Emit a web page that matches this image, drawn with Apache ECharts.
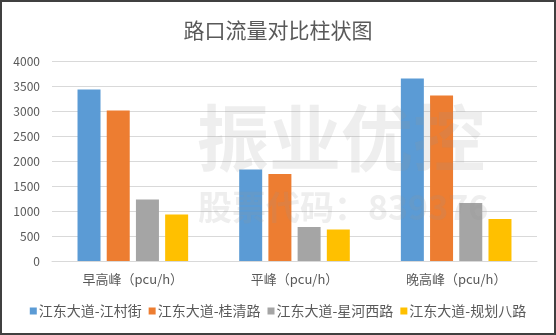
<!DOCTYPE html>
<html><head><meta charset="utf-8">
<script src="https://cdn.jsdelivr.net/npm/echarts@6/dist/echarts.min.js"></script>
<style>html,body{margin:0;padding:0;background:#fff}#c{width:556px;height:335px;box-sizing:border-box;border:2px solid #404040}</style>
</head><body><div id="c"></div>
<script>
const categories = ['早高峰（pcu/h）', '平峰（pcu/h）', '晚高峰（pcu/h）'];
const seriesNames = ['江东大道-江村街', '江东大道-桂清路', '江东大道-星河西路', '江东大道-规划八路'];
const jiangcunjie = [3430, 1830, 3650];
const guiqinglu = [3010, 1740, 3310];
const xinghexilu = [1230, 680, 1160];
const guihuabalu = [930, 630, 840];
const yTicks = [0, 500, 1000, 1500, 2000, 2500, 3000, 3500, 4000];
const colors = ['#5B9BD5', '#ED7D31', '#A5A5A5', '#FFC000'];
const values = [jiangcunjie, guiqinglu, xinghexilu, guihuabalu];
const font = '"Noto Sans CJK SC", "Noto Sans", sans-serif';

const chart = echarts.init(document.getElementById('c'), null, {renderer: 'canvas'});
chart.setOption({
  animation: false,
  textStyle: {fontFamily: font},
  title: {text: '路口流量对比柱状图', left: 'center', top: 13,
    textStyle: {fontSize: 21, fontWeight: 'normal', color: '#595959', fontFamily: font}},
  grid: {left: 50, right: 17, top: 59, bottom: 72},
  legend: {bottom: 10, left: 'center', itemWidth: 7, itemHeight: 7, itemGap: 7,
    icon: 'rect', textStyle: {fontSize: 14, color: '#595959', padding: [0,0,0,-3]}, data: seriesNames},
  xAxis: {type: 'category', data: categories,
    axisLine: {lineStyle: {color: '#d9d9d9', width: 1}}, axisTick: {show: false},
    axisLabel: {fontSize: 13, color: '#595959', margin: 12}},
  yAxis: {type: 'value', min: 0, max: yTicks[yTicks.length-1], interval: 500,
    axisLine: {show: false}, axisTick: {show: false},
    axisLabel: {fontSize: 12, color: '#595959', margin: 12, formatter: v => String(v)},
    splitLine: {lineStyle: {color: '#d9d9d9'}}},
  series: seriesNames.map((n, i) => ({
    name: n, type: 'bar', data: values[i], barWidth: 23, barGap: '27%',
    itemStyle: {color: colors[i]}
  })),
  graphic: [
    {type: 'text', left: 195, top: 100, z: 100, silent: true,
      style: {text: '振业优控', fontSize: 72, fontWeight: 'bold', fill: 'rgba(150,150,150,0.16)', fontFamily: font}},
    {type: 'text', left: 196, top: 188, z: 100, silent: true,
      style: {text: '股票代码：839376', fontSize: 34, fontWeight: 'bold', fill: 'rgba(150,150,150,0.16)', fontFamily: font}}
  ]
});
</script></body></html>
